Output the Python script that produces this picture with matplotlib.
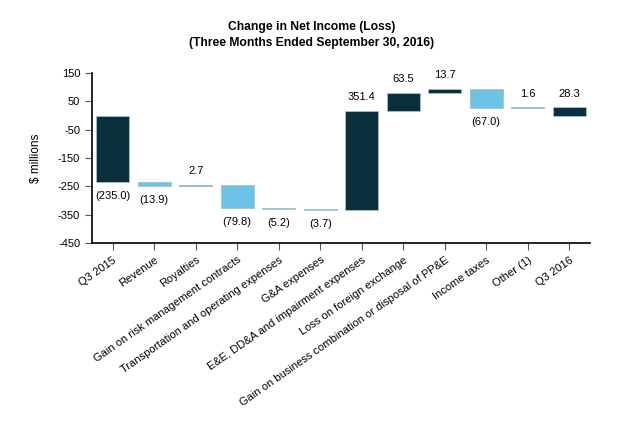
import numpy as np
import matplotlib
matplotlib.use('Agg')
from matplotlib import pyplot as plt

plt.rcParams['font.family'] = ['Liberation Sans', 'DejaVu Sans']
plt.rcParams['axes.unicode_minus'] = False

categories = ['Q3 2015', 'Revenue', 'Royalties', 'Gain on risk management contracts',
              'Transportation and operating expenses', 'G&A expenses',
              'E&E, DD&A and impairment expenses', 'Loss on foreign exchange',
              'Gain on business combination or disposal of PP&E', 'Income taxes',
              'Other (1)', 'Q3 2016']
changes = [-235.0, -13.9, 2.7, -79.8, -5.2, -3.7, 351.4, 63.5, 13.7, -67.0, 1.6, 28.3]
isTotal = [True, False, False, False, False, False, False, False, False, False, False, True]

darkColor = '#0b2e3b'
lightColor = '#6cc3e6'

#%%
bottoms = []
heights = []
running = 0.0
for val, tot in zip(changes, isTotal):
    if tot:
        bottoms.append(0.0)
        heights.append(val)
        running = val
    else:
        bottoms.append(running)
        heights.append(val)
        running = running + val

colors = [darkColor if h >= 0 or t else lightColor for h, t in zip(heights, isTotal)]

fig = plt.figure(figsize=(6.24, 4.33), dpi=100)
ax = fig.add_axes([0.1474, 0.4388, 0.7981, 0.3926])

x = np.arange(len(categories))
ax.bar(x, heights, bottom=bottoms, width=0.8, color=colors,
       edgecolor='#9fc3d0', linewidth=0.6)

for i in range(len(categories)):
    top = max(bottoms[i], bottoms[i] + heights[i])
    low = min(bottoms[i], bottoms[i] + heights[i])
    if heights[i] >= 0:
        ax.annotate('{:.1f}'.format(heights[i]), (x[i], top), xytext=(0, 10),
                    textcoords='offset points', ha='center', va='center', fontsize=8)
    else:
        ax.annotate('({:.1f})'.format(-heights[i]), (x[i], low), xytext=(0, -10),
                    textcoords='offset points', ha='center', va='center', fontsize=8)

ax.set_xlim(-0.5, len(categories) - 0.5)
ax.set_ylim(-450, 150)
ax.set_yticks(np.arange(-450, 151, 100))
ax.set_xticks(x)
ax.set_xticklabels(categories, rotation=35, ha='right', rotation_mode='anchor', fontsize=8)
ax.tick_params(axis='y', labelsize=8, length=5, width=0.8, color='#555555')
ax.tick_params(axis='x', length=5, width=0.8, color='#555555')
ax.spines['top'].set_visible(False)
ax.spines['right'].set_visible(False)
ax.spines['left'].set_linewidth(1.2)
ax.spines['bottom'].set_linewidth(1.2)
ax.set_ylabel('$ millions', fontsize=8.5)
ax.yaxis.set_label_coords(-0.1, 0.5)

fig.text(0.5, 0.938, 'Change in Net Income (Loss)', ha='center', va='center',
         fontsize=8.7, fontweight='bold')
fig.text(0.5, 0.900, '(Three Months Ended September 30, 2016)', ha='center', va='center',
         fontsize=8.7, fontweight='bold')

fig.savefig('out.png', dpi=100)
